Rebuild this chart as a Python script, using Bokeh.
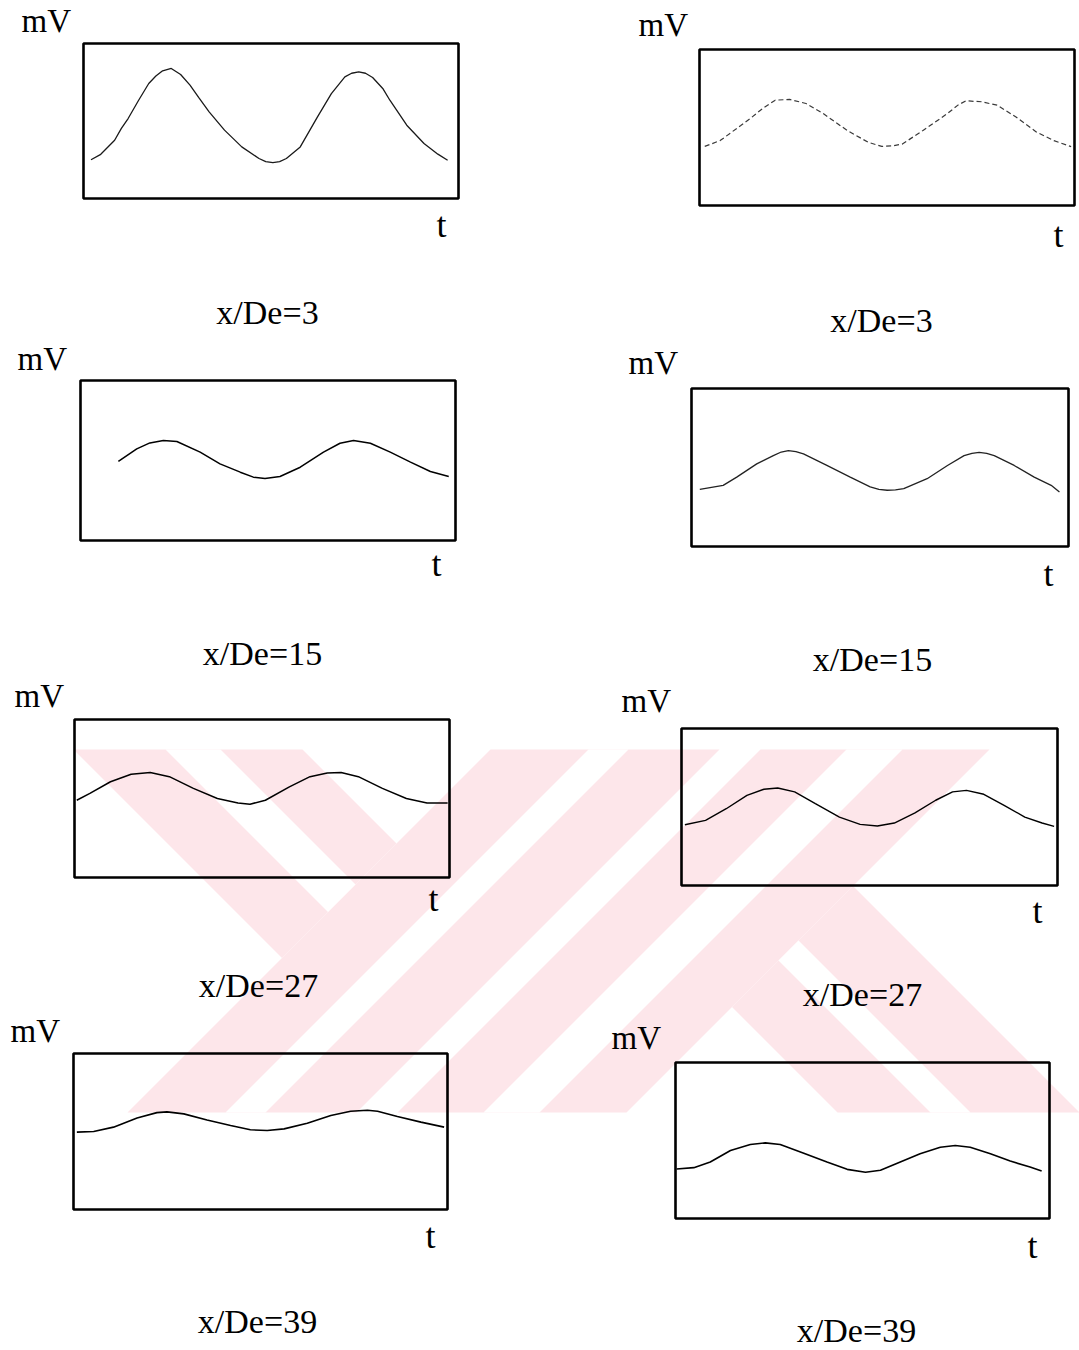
from bokeh.plotting import figure
from bokeh.models import Range1d
from bokeh.core.properties import value
from bokeh.embed import file_html
from bokeh.resources import INLINE

# ---- oscilloscope traces: sweep time (% of screen) and signal level (divisions) ----
t_1 = [2.0, 4.6, 8.3, 10.1, 11.9, 14.7, 17.4, 19.3, 21.1, 23.4, 25.9, 28.4, 30.7, 33.5, 37.6,
       42.2, 46.8, 48.6, 50.5, 52.3, 54.1, 57.8, 62.4, 66.1, 69.7, 71.5, 73.4, 75.2, 77.1,
       79.8, 81.7, 86.2, 90.8, 94.5, 97.1]
v_1 = [2.50, 2.85, 3.76, 4.52, 5.16, 6.34, 7.42, 7.90, 8.24, 8.39, 8.00, 7.31, 6.52, 5.59, 4.41,
       3.33, 2.58, 2.38, 2.32, 2.38, 2.58, 3.33, 5.27, 6.77, 7.85, 8.08, 8.17, 8.08, 7.81,
       7.10, 6.34, 4.73, 3.55, 2.86, 2.47]

t_2 = [1.4, 5.5, 11.0, 13.8, 17.0, 20.2, 24.0, 28.4, 33.0, 39.4, 45.0, 48.6, 51.5, 54.1, 59.6,
       66.1, 69.0, 71.1, 75.2, 79.4, 84.4, 89.9, 94.5, 99.1]
v_2 = [3.79, 4.16, 5.13, 5.63, 6.25, 6.75, 6.80, 6.54, 5.89, 4.81, 4.05, 3.79, 3.82, 3.94, 4.81,
       5.89, 6.45, 6.71, 6.65, 6.43, 5.67, 4.70, 4.16, 3.77]

t_3 = [10.1, 15.0, 18.5, 22.1, 25.7, 31.9, 37.2, 42.6, 46.1, 49.2, 53.2, 58.6, 64.8, 69.2,
       72.8, 77.3, 82.6, 88.0, 93.3, 98.2]
v_3 = [4.94, 5.73, 6.10, 6.25, 6.19, 5.52, 4.79, 4.27, 3.96, 3.88, 4.00, 4.58, 5.52, 6.08,
       6.25, 6.08, 5.52, 4.90, 4.31, 4.00]

t_4 = [2.2, 8.4, 12.0, 17.3, 21.7, 23.8, 25.7, 27.7, 29.7, 35.9, 42.1, 47.4, 49.7, 51.9, 54.1,
       56.3, 62.5, 67.9, 72.3, 74.4, 76.3, 78.3, 80.3, 85.6, 90.9, 95.4, 97.6]
v_4 = [3.62, 3.87, 4.39, 5.23, 5.75, 5.98, 6.07, 6.01, 5.86, 5.13, 4.39, 3.77, 3.62, 3.56, 3.58,
       3.66, 4.29, 5.13, 5.75, 5.90, 5.96, 5.90, 5.75, 5.13, 4.39, 3.87, 3.45]

t_5 = [0.6, 4.1, 9.6, 15.1, 20.2, 25.3, 31.7, 38.1, 43.6, 46.8, 50.9, 57.3, 62.8, 67.4,
       71.1, 75.7, 82.1, 88.5, 94.0, 99.5]
v_5 = [4.89, 5.32, 6.06, 6.53, 6.64, 6.38, 5.64, 5.00, 4.72, 4.64, 4.89, 5.74, 6.38, 6.62,
       6.64, 6.38, 5.64, 5.00, 4.72, 4.72]

t_6 = [0.9, 6.4, 11.9, 17.4, 21.9, 25.6, 30.1, 35.6, 42.0, 47.5, 52.1, 56.6, 62.1, 67.6,
       72.1, 75.8, 80.4, 85.8, 91.3, 95.9, 99.1]
v_6 = [3.87, 4.15, 4.89, 5.74, 6.13, 6.21, 5.96, 5.21, 4.36, 3.89, 3.79, 3.98, 4.62, 5.43,
       5.96, 6.06, 5.81, 5.11, 4.36, 3.98, 3.77]

t_7 = [0.9, 5.4, 10.7, 17.0, 22.3, 25.0, 29.5, 35.7, 42.0, 47.3, 51.8, 56.3, 62.5, 68.8,
       74.1, 78.6, 81.3, 86.6, 92.9, 99.1]
v_7 = [4.96, 5.00, 5.28, 5.87, 6.21, 6.26, 6.13, 5.74, 5.38, 5.11, 5.06, 5.17, 5.53, 6.02,
       6.30, 6.36, 6.30, 5.96, 5.60, 5.28]

t_8 = [0.3, 4.9, 9.3, 14.7, 20.0, 24.0, 28.0, 34.3, 40.5, 45.9, 50.8, 54.8, 60.1, 65.4,
       70.8, 74.8, 78.8, 84.2, 89.5, 94.8, 97.9]
v_8 = [3.17, 3.26, 3.62, 4.36, 4.74, 4.85, 4.74, 4.19, 3.62, 3.15, 2.96, 3.09, 3.62, 4.15,
       4.57, 4.68, 4.57, 4.15, 3.68, 3.30, 3.04]

# station labels (x/De) for each trace
stations = ["x/De=3", "x/De=3", "x/De=15", "x/De=15",
            "x/De=27", "x/De=27", "x/De=39", "x/De=39"]
y_unit = "mV"
x_unit = "t"

# screen extent of every trace window
T_SPAN = (0.0, 100.0)
V_SPAN = (0.0, 10.0)

# ---- page layout (pixels, origin top-left) ----
PAGE_W, PAGE_H = 1079, 1350
# frame box: left, top, right, bottom
boxes = [
    (83, 43, 458, 198), (699, 49, 1074, 205),
    (80, 380, 455, 540), (691, 388, 1068, 546),
    (74, 719, 449, 877), (681, 728, 1057, 885),
    (73, 1053, 447, 1209), (675, 1062, 1049, 1218),
]
# (unit label x, baseline), (t centre x, baseline), (station centre x, baseline)
label_pos = [
    ((21, 20), (441, 224), (267, 312)),
    ((638, 24), (1058, 234), (881, 320)),
    ((17, 358), (436, 563), (262, 653)),
    ((628, 362), (1048, 573), (872, 659)),
    ((14, 695), (433, 898), (258, 985)),
    ((621, 700), (1037, 910), (862, 994)),
    ((10, 1030), (430, 1235), (257, 1321)),
    ((611, 1037), (1032, 1245), (856, 1330)),
]
trace_style = [
    dict(line_color="#1a1a1a", line_width=1.3),
    dict(line_color="#3a3a3a", line_width=1.2, line_dash="5 3"),
    dict(line_color="black", line_width=1.5),
    dict(line_color="#222222", line_width=1.3),
    dict(line_color="black", line_width=1.5),
    dict(line_color="black", line_width=1.4),
    dict(line_color="black", line_width=1.6),
    dict(line_color="black", line_width=1.6),
]

FONT = value("Liberation Serif")
PINK = "#fde6ea"

p = figure(width=PAGE_W, height=PAGE_H,
           x_range=Range1d(0, PAGE_W), y_range=Range1d(PAGE_H, 0),
           x_axis_type=None, y_axis_type=None,
           output_backend="svg", toolbar_location=None,
           min_border=0, outline_line_color=None,
           background_fill_color="white", border_fill_color="white")

# ---- faint background seal: slanted inline letters, pink strokes with white inlines ----
seal_pink = [
    ([73, 302, 396, 281.5], [749, 749, 843, 957.5]),          # left arm of Y
    ([127, 490, 719, 356], [1112, 749, 749, 1112]),           # right stroke of Y
    ([397, 760, 989, 626], [1112, 749, 749, 1112]),           # stem of K
    ([852.5, 731.5, 837, 1079], [885.5, 1006.5, 1112, 1112]),  # leg of K
]
seal_inline = [
    ([165, 220, 355, 327.5], [749, 749, 884, 911.5]),
    ([225, 588, 628, 265], [1112, 749, 749, 1112]),
    ([483, 846, 902, 539], [1112, 749, 749, 1112]),
    ([798, 778, 930, 970], [940, 960, 1112, 1112]),
]
p.patches([s[0] for s in seal_pink], [s[1] for s in seal_pink],
          fill_color=PINK, line_color=None)
p.patches([s[0] for s in seal_inline], [s[1] for s in seal_inline],
          fill_color="white", line_color=None)

traces = [(t_1, v_1), (t_2, v_2), (t_3, v_3), (t_4, v_4),
          (t_5, v_5), (t_6, v_6), (t_7, v_7), (t_8, v_8)]

for i, (tt, vv) in enumerate(traces):
    left, top, right, bottom = boxes[i]
    sp = p.subplot(x_source=Range1d(*T_SPAN), y_source=Range1d(*V_SPAN),
                   x_target=Range1d(left, right), y_target=Range1d(bottom, top))
    # trace window frame
    sp.quad(left=[T_SPAN[0]], right=[T_SPAN[1]], bottom=[V_SPAN[0]], top=[V_SPAN[1]],
            fill_alpha=0, line_color="black", line_width=2.6)
    # signal
    sp.line(tt, vv, **trace_style[i])

    (ux, uy), (tx, ty), (sx, sy) = label_pos[i]
    p.text(x=[ux], y=[uy], text=[y_unit], text_font=FONT, text_font_size="33px",
           text_align="left", text_baseline="alphabetic", text_color="black")
    p.text(x=[tx], y=[ty], text=[x_unit], text_font=FONT, text_font_size="36px",
           text_align="center", text_baseline="alphabetic", text_color="black")
    p.text(x=[sx], y=[sy], text=[stations[i]], text_font=FONT, text_font_size="34px",
           text_align="center", text_baseline="alphabetic", text_color="black")

open("out.html", "w").write(file_html(p, INLINE))
